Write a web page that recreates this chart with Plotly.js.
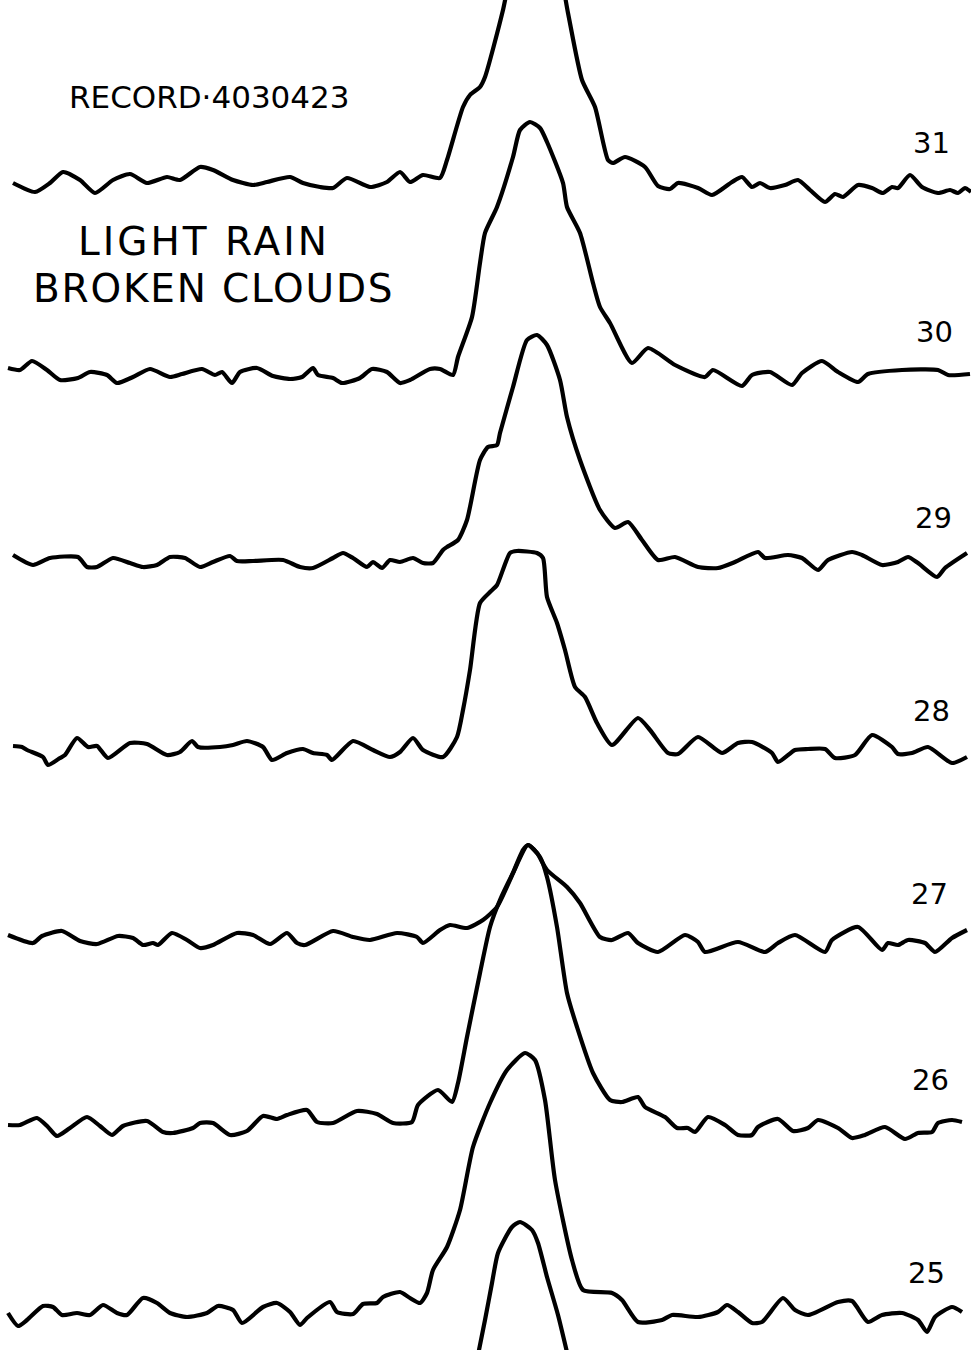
<!DOCTYPE html>
<html>
<head>
<meta charset="utf-8">
<script src="https://cdn.plot.ly/plotly-3.0.1.min.js"></script>
<style>html,body{margin:0;padding:0;background:#fff;}#chart{width:971px;height:1350px;}</style>
</head>
<body>
<div id="chart"></div>
<script>
// Record labels (scan numbers), top to bottom
const scanLabels = ["31", "30", "29", "28", "27", "26", "25"];
const recordTitle = "RECORD·4030423";
const conditionLines = ["LIGHT RAIN", "BROKEN CLOUDS"];

// Each trace: horizontal position (range cell) and vertical reading (downward chart units)
const t31_x = [13,35,50,63,80,95,113,130,147,167,180,200,213,233,253,267,290,303,320,333,347,370,387,400,410,423,440,447,463,470,480,485,503,520,536,552,568,582,595,608,613,625,645,658,670,678,698,712,732,742,752,760,770,785,798,810,825,835,843,858,872,883,892,898,910,922,938,950,958,965,971];
const t31_y = [183,192,183,172,180,193,180,174,183,177,180,167,170,180,185,182,177,183,187,188,178,187,182,172,182,175,178,160,107,95,87,77,10,-70,-95,-70,13,80,107,160,163,157,167,186,189,183,188,195,182,177,187,183,188,185,180,190,202,194,197,185,188,193,187,188,175,187,193,190,193,188,192];

const t30_x = [8,20,32,47,60,78,90,107,117,133,150,170,182,202,215,222,232,240,257,273,290,302,313,318,333,342,360,372,387,400,410,430,440,453,458,472,480,485,497,513,520,530,540,547,563,567,580,593,600,610,632,648,675,705,713,742,752,770,792,802,822,838,858,868,902,938,948,970];
const t30_y = [368,370,361,370,380,378,372,375,383,377,369,377,374,369,375,372,383,372,368,376,379,377,368,375,378,383,378,369,372,383,380,369,369,375,357,317,263,233,207,157,130,122,128,142,183,207,233,283,307,323,363,348,365,377,370,386,375,372,385,373,361,372,382,374,370,370,375,374];

const t29_x = [13,33,50,78,87,97,113,130,143,157,170,185,200,213,230,237,253,283,300,313,333,343,353,367,373,382,390,400,413,423,433,443,447,458,467,480,488,497,500,513,527,537,547,560,567,580,600,615,628,642,658,675,698,718,735,758,765,788,802,818,828,852,862,882,898,908,918,937,945,967];
const t29_y = [555,565,558,557,567,567,558,563,567,565,557,558,567,562,556,561,561,560,567,568,558,553,558,567,562,568,560,562,558,563,563,550,547,540,520,460,447,445,433,387,340,335,345,380,417,460,510,528,522,540,560,557,567,568,562,552,558,555,558,570,560,552,555,565,562,557,563,577,568,553];

const t28_x = [13,22,27,43,48,60,65,77,88,97,108,130,147,167,180,192,198,220,233,247,263,272,287,303,313,327,332,353,373,390,400,413,423,443,457,463,470,480,490,497,510,517,537,543,547,557,565,575,585,597,612,638,650,668,678,698,722,738,752,772,778,795,808,825,835,855,872,892,898,912,928,952,967];
const t28_y = [746,747,750,757,765,758,755,738,747,746,758,743,744,755,752,741,747,747,745,741,747,760,753,749,753,755,760,741,750,757,752,738,750,757,737,710,670,603,592,585,553,551,553,558,597,623,650,687,697,723,745,718,730,753,754,737,753,743,742,753,762,750,749,749,758,755,735,747,754,753,747,763,757];

const t27_x = [8,33,42,62,80,97,118,133,143,153,158,172,187,200,213,237,253,270,287,297,305,333,353,370,397,417,423,440,450,467,483,497,510,523,528,537,547,567,580,600,612,628,638,658,685,698,705,738,765,778,795,825,832,858,882,888,898,908,925,935,952,967];
const t27_y = [935,943,936,931,941,944,936,938,945,943,945,933,940,948,945,933,935,944,933,943,945,931,937,940,933,937,943,930,925,928,920,907,880,850,845,853,870,887,903,937,940,933,943,952,935,942,952,942,952,943,935,952,940,927,950,943,945,940,943,952,938,930];

const t26_x = [8,20,37,48,57,70,87,100,112,123,147,163,173,193,200,213,230,247,263,277,287,307,317,333,357,377,393,412,418,438,452,458,467,480,490,500,513,528,540,547,557,567,577,593,610,622,638,645,665,677,688,695,708,725,738,752,758,778,793,808,818,838,852,865,885,905,918,932,938,952,962];
const t26_y = [1125,1125,1118,1127,1136,1128,1117,1126,1135,1126,1121,1132,1133,1128,1123,1123,1135,1131,1116,1119,1115,1110,1122,1123,1111,1114,1123,1122,1105,1090,1102,1083,1037,973,927,900,873,845,857,877,927,993,1027,1073,1100,1102,1097,1107,1117,1128,1128,1132,1117,1125,1135,1135,1127,1119,1131,1128,1120,1128,1138,1135,1127,1139,1133,1132,1123,1120,1122];

const t25_x = [8,18,27,43,53,62,77,90,103,117,127,143,157,170,187,207,218,233,242,263,277,290,300,307,330,337,353,363,377,383,400,410,420,427,433,447,460,473,490,507,525,535,545,555,572,583,612,622,638,662,672,698,718,727,738,752,762,783,795,808,838,852,868,882,902,918,927,935,952,962];
const t25_y = [1313,1326,1320,1306,1307,1315,1313,1315,1305,1313,1315,1298,1303,1313,1317,1313,1306,1310,1323,1307,1303,1312,1325,1318,1302,1312,1314,1304,1303,1297,1292,1298,1303,1293,1270,1247,1210,1147,1103,1070,1053,1060,1100,1180,1260,1290,1293,1300,1322,1320,1315,1317,1312,1305,1312,1323,1322,1298,1310,1315,1302,1301,1322,1315,1313,1320,1332,1317,1307,1312];

// Partial scan below 25 (only its echo peak is inside the frame)
const t24_x = [476,485,492,498,512,520,532,538,547,558,570];
const t24_y = [1365,1320,1283,1253,1227,1222,1230,1243,1277,1315,1365];

const traceX = [t31_x, t30_x, t29_x, t28_x, t27_x, t26_x, t25_x, t24_x];
const traceY = [t31_y, t30_y, t29_y, t28_y, t27_y, t26_y, t25_y, t24_y];

// label anchor readings
const labelX = [931, 934, 933, 931, 929, 930, 926];
const labelY = [143, 332, 518, 711, 894, 1080, 1273];

const data = traceX.map((xs, i) => ({
  type: "scatter",
  mode: "lines",
  x: xs,
  y: traceY[i],
  line: {color: "#000", width: 4.2, shape: "spline", smoothing: 0.6},
  hoverinfo: "skip",
  showlegend: false
}));

const annotations = scanLabels.map((s, i) => ({
  x: labelX[i], y: labelY[i], xref: "x", yref: "y",
  text: s, showarrow: false, xanchor: "center", yanchor: "middle",
  font: {family: "DejaVu Sans", size: 29, color: "#000"}
}));
annotations.push({
  x: 209, y: 97, xref: "x", yref: "y", text: recordTitle, showarrow: false,
  xanchor: "center", yanchor: "middle",
  font: {family: "DejaVu Sans", size: 31, color: "#000"}
});
annotations.push({
  x: 204, y: 241, xref: "x", yref: "y",
  text: '<span style="letter-spacing:3px">' + conditionLines[0] + '</span>',
  showarrow: false, xanchor: "center", yanchor: "middle",
  font: {family: "DejaVu Sans", size: 39, color: "#000"}
});
annotations.push({
  x: 213, y: 288, xref: "x", yref: "y",
  text: '<span style="letter-spacing:1.8px">' + conditionLines[1] + '</span>',
  showarrow: false, xanchor: "center", yanchor: "middle",
  font: {family: "DejaVu Sans", size: 39, color: "#000"}
});

const layout = {
  width: 971, height: 1350,
  margin: {l: 0, r: 0, t: 0, b: 0, pad: 0},
  paper_bgcolor: "#fff", plot_bgcolor: "#fff",
  xaxis: {range: [0, 971], visible: false, fixedrange: true},
  yaxis: {range: [1350, 0], visible: false, fixedrange: true},
  annotations: annotations,
  showlegend: false
};

Plotly.newPlot("chart", data, layout, {staticPlot: true, displayModeBar: false});
</script>
</body>
</html>
